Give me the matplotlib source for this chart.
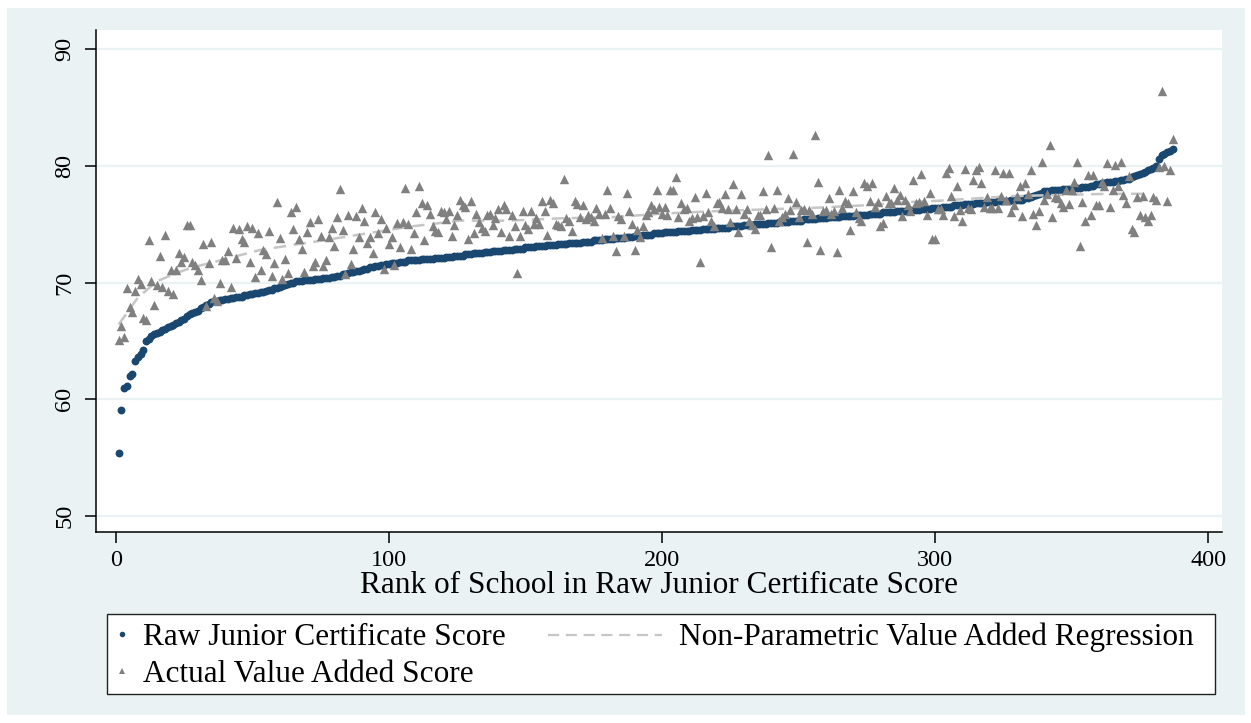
import matplotlib
matplotlib.use("Agg")
import matplotlib.pyplot as plt
import numpy as np
from matplotlib.lines import Line2D
from matplotlib.patches import Rectangle

plt.rcParams['font.family'] = ['Liberation Serif', 'DejaVu Serif']

# Raw junior certificate score, schools sorted by rank (1..387)
raw_score = [
    55.4, 59.1, 61.0, 61.1, 62.0, 62.2, 63.3, 63.6, 63.9, 64.2,
    65.0, 65.2, 65.4, 65.6, 65.7, 65.8, 65.9, 66.0, 66.2, 66.3,
    66.4, 66.5, 66.6, 66.8, 66.9, 67.1, 67.3, 67.4, 67.5, 67.6,
    67.8, 67.9, 68.1, 68.2, 68.3, 68.4, 68.4, 68.5, 68.5, 68.6,
    68.6, 68.7, 68.7, 68.8, 68.8, 68.8, 68.9, 68.9, 69.0, 69.0,
    69.1, 69.1, 69.2, 69.2, 69.3, 69.4, 69.4, 69.5, 69.5, 69.6,
    69.7, 69.8, 69.9, 70.0, 70.0, 70.1, 70.1, 70.1, 70.2, 70.2,
    70.2, 70.2, 70.3, 70.3, 70.3, 70.4, 70.4, 70.4, 70.5, 70.5,
    70.6, 70.6, 70.7, 70.7, 70.8, 70.9, 70.9, 71.0, 71.0, 71.1,
    71.2, 71.2, 71.3, 71.3, 71.4, 71.4, 71.5, 71.5, 71.6, 71.6,
    71.7, 71.7, 71.7, 71.8, 71.8, 71.8, 71.9, 71.9, 71.9, 71.9,
    71.9, 72.0, 72.0, 72.0, 72.0, 72.0, 72.1, 72.1, 72.1, 72.1,
    72.2, 72.2, 72.2, 72.3, 72.3, 72.3, 72.3, 72.4, 72.4, 72.4,
    72.5, 72.5, 72.5, 72.5, 72.6, 72.6, 72.6, 72.7, 72.7, 72.7,
    72.7, 72.8, 72.8, 72.8, 72.8, 72.9, 72.9, 72.9, 72.9, 73.0,
    73.0, 73.0, 73.0, 73.1, 73.1, 73.1, 73.1, 73.2, 73.2, 73.2,
    73.2, 73.3, 73.3, 73.3, 73.3, 73.4, 73.4, 73.4, 73.4, 73.4,
    73.5, 73.5, 73.5, 73.5, 73.6, 73.6, 73.6, 73.6, 73.7, 73.7,
    73.7, 73.7, 73.8, 73.8, 73.8, 73.8, 73.9, 73.9, 73.9, 74.0,
    74.0, 74.0, 74.1, 74.1, 74.1, 74.1, 74.2, 74.2, 74.2, 74.2,
    74.3, 74.3, 74.3, 74.3, 74.3, 74.4, 74.4, 74.4, 74.4, 74.4,
    74.5, 74.5, 74.5, 74.5, 74.6, 74.6, 74.6, 74.6, 74.6, 74.7,
    74.7, 74.7, 74.7, 74.7, 74.8, 74.8, 74.8, 74.8, 74.8, 74.9,
    74.9, 74.9, 74.9, 75.0, 75.0, 75.0, 75.0, 75.0, 75.1, 75.1,
    75.1, 75.1, 75.2, 75.2, 75.2, 75.2, 75.3, 75.3, 75.3, 75.3,
    75.3, 75.4, 75.4, 75.4, 75.4, 75.4, 75.5, 75.5, 75.5, 75.5,
    75.6, 75.6, 75.6, 75.6, 75.6, 75.7, 75.7, 75.7, 75.7, 75.7,
    75.8, 75.8, 75.8, 75.8, 75.8, 75.9, 75.9, 75.9, 75.9, 75.9,
    76.0, 76.0, 76.0, 76.0, 76.0, 76.1, 76.1, 76.1, 76.1, 76.1,
    76.2, 76.2, 76.2, 76.2, 76.3, 76.3, 76.3, 76.3, 76.4, 76.4,
    76.4, 76.4, 76.5, 76.5, 76.5, 76.5, 76.6, 76.6, 76.6, 76.6,
    76.7, 76.7, 76.7, 76.7, 76.8, 76.8, 76.8, 76.8, 76.9, 76.9,
    76.9, 76.9, 77.0, 77.0, 77.0, 77.0, 77.0, 77.1, 77.1, 77.1,
    77.1, 77.1, 77.2, 77.2, 77.3, 77.4, 77.5, 77.6, 77.7, 77.8,
    77.8, 77.8, 77.9, 77.9, 77.9, 77.9, 78.0, 78.0, 78.0, 78.0,
    78.1, 78.1, 78.1, 78.2, 78.2, 78.2, 78.3, 78.3, 78.4, 78.4,
    78.5, 78.5, 78.6, 78.6, 78.6, 78.7, 78.7, 78.8, 78.8, 78.9,
    78.9, 79.0, 79.1, 79.2, 79.3, 79.4, 79.5, 79.6, 79.7, 79.8,
    80.0, 80.6, 80.9, 81.0, 81.2, 81.3, 81.4,
]

# Actual value added score, same school order
value_added = [
    65.1, 66.3, 65.3, 69.5, 67.9, 67.5, 69.3, 70.3, 69.9, 67.0,
    66.8, 73.6, 70.1, 68.1, 69.8, 72.3, 69.6, 74.1, 69.3, 71.1,
    69.0, 71.1, 72.5, 71.8, 72.2, 74.9, 74.9, 71.8, 71.5, 71.1,
    70.2, 73.3, 68.0, 71.7, 73.5, 68.7, 68.4, 70.0, 71.9, 71.9,
    72.7, 69.6, 74.7, 72.1, 74.6, 73.7, 73.5, 74.8, 71.8, 74.7,
    70.5, 74.2, 71.1, 72.8, 72.4, 74.4, 70.6, 71.7, 76.9, 73.8,
    70.3, 72.0, 70.8, 76.0, 74.6, 76.5, 73.7, 72.9, 70.9, 74.3,
    75.2, 71.4, 71.8, 75.4, 74.0, 71.4, 71.9, 73.9, 74.7, 73.1,
    75.6, 78.0, 74.5, 70.7, 75.8, 71.6, 72.9, 75.7, 73.9, 76.4,
    75.3, 73.4, 73.9, 72.5, 76.0, 74.2, 75.4, 71.2, 74.7, 73.3,
    73.9, 71.5, 75.1, 73.0, 75.2, 78.1, 75.0, 72.9, 74.2, 76.0,
    78.3, 76.8, 73.6, 76.6, 75.9, 74.8, 74.4, 74.3, 76.1, 76.0,
    75.4, 76.1, 74.0, 74.9, 75.8, 77.1, 76.6, 76.5, 73.7, 77.0,
    74.2, 75.9, 75.2, 74.7, 74.4, 75.8, 75.9, 74.9, 75.5, 76.3,
    74.3, 76.6, 76.3, 74.0, 75.8, 74.8, 70.8, 74.0, 76.1, 74.9,
    74.6, 76.1, 75.0, 75.5, 75.0, 77.0, 76.1, 74.1, 77.1, 76.8,
    75.0, 74.9, 74.8, 78.9, 75.5, 75.3, 74.4, 77.0, 76.7, 75.6,
    76.6, 75.4, 75.8, 75.6, 75.3, 76.4, 75.9, 73.8, 75.9, 77.9,
    76.4, 74.0, 72.7, 75.7, 75.4, 74.0, 77.7, 76.1, 75.0, 72.8,
    74.5, 73.9, 74.8, 75.8, 76.0, 76.6, 76.3, 77.9, 76.5, 75.9,
    76.5, 75.8, 77.9, 77.9, 79.0, 75.6, 76.8, 76.3, 76.4, 75.3,
    75.5, 77.3, 75.6, 71.8, 75.7, 77.7, 76.0, 75.3, 74.8, 76.8,
    76.9, 76.4, 77.6, 76.3, 75.2, 78.4, 76.3, 74.3, 77.6, 75.9,
    76.3, 75.3, 74.9, 74.6, 75.8, 75.8, 77.8, 76.3, 80.9, 73.0,
    76.4, 77.9, 75.3, 75.6, 75.9, 77.2, 76.2, 81.0, 76.9, 75.6,
    76.2, 76.3, 73.5, 76.2, 75.9, 82.6, 78.6, 72.8, 76.1, 76.2,
    77.2, 75.9, 76.1, 72.6, 77.9, 76.4, 77.0, 76.8, 74.5, 77.8,
    76.0, 75.5, 75.3, 78.5, 78.3, 77.0, 78.5, 76.5, 76.9, 74.8,
    75.1, 77.4, 76.8, 76.8, 78.1, 77.1, 77.5, 75.7, 77.1, 76.6,
    76.1, 78.8, 76.8, 76.9, 79.3, 77.0, 75.8, 77.7, 73.7, 73.7,
    76.3, 76.3, 75.8, 79.4, 79.8, 77.4, 75.7, 78.3, 76.2, 75.3,
    79.7, 76.4, 76.3, 78.8, 79.6, 79.9, 78.5, 76.5, 77.3, 76.4,
    76.4, 79.6, 76.4, 77.4, 79.4, 77.1, 79.4, 76.0, 76.6, 77.4,
    78.3, 75.7, 78.5, 77.6, 79.6, 75.9, 74.9, 76.1, 80.3, 77.1,
    77.6, 81.8, 75.6, 77.3, 77.2, 76.8, 76.5, 77.9, 76.7, 77.9,
    78.6, 80.3, 73.1, 76.9, 75.3, 79.2, 75.8, 79.2, 76.6, 76.6,
    78.6, 78.3, 80.2, 76.5, 77.9, 80.1, 78.3, 80.3, 77.5, 76.8,
    79.1, 74.6, 74.3, 77.3, 75.8, 77.4, 75.6, 75.3, 75.8, 77.3,
    77.1, 79.9, 86.4, 80.0, 77.0, 79.6, 82.3,
]

# Non-parametric fit evaluated at a grid of ranks
fit_rank = [1, 8, 15, 22, 28, 35, 53, 73, 89, 108, 126, 144, 163, 182,
            200, 218, 242, 256, 273, 291, 301, 328, 346, 364, 378]
fit_value = [66.4, 68.7, 70.1, 70.8, 71.3, 71.7, 72.8, 73.5, 74.1, 74.8,
             75.3, 75.3, 75.5, 75.6, 75.9, 76.1, 76.3, 76.4, 76.6, 76.9,
             77.0, 77.4, 77.5, 77.6, 77.6]

rank = np.arange(1, len(raw_score) + 1)

W, H = 1251, 723
bg = '#eaf2f3'
navy = '#1a476f'
tri_gray = '#808080'
fit_gray = '#c6c6c6'

fig = plt.figure(figsize=(W / 100, H / 100), dpi=100)
fig.patch.set_facecolor('white')
fig.add_artist(Rectangle((7 / W, 8 / H), (1245 - 7) / W, (715 - 8) / H,
                         transform=fig.transFigure, facecolor=bg,
                         edgecolor='none', zorder=0))

ax = fig.add_axes([96 / W, 1 - 532 / H, (1222 - 96) / W, (532 - 30) / H])
ax.set_facecolor('white')

ax.scatter(rank, raw_score, s=32, marker='o', color=navy, linewidths=0, zorder=3)
ax.plot(fit_rank, fit_value, color=fit_gray, lw=1.8, dashes=(5, 3), zorder=4)
ax.scatter(rank, value_added, s=46, marker='^', color=tri_gray, linewidths=0, zorder=5)

ax.set_xlim(-7.3, 405.1)
ax.set_ylim(48.63, 91.63)
ax.set_yticks([50, 60, 70, 80, 90])
ax.set_xticks([0, 100, 200, 300, 400])
ax.grid(axis='y', color=bg, lw=1.6)
ax.set_axisbelow(True)
for s in ['top', 'right']:
    ax.spines[s].set_visible(False)
for s in ['left', 'bottom']:
    ax.spines[s].set_linewidth(1.1)
    ax.spines[s].set_color('black')
ax.tick_params(axis='both', length=8, width=1.1, labelsize=17.5, color='black')
ax.tick_params(axis='y', pad=7)
ax.tick_params(axis='x', pad=5)
for lbl in ax.get_yticklabels():
    lbl.set_rotation(90)
    lbl.set_va('center')
ax.set_xlabel('Rank of School in Raw Junior Certificate Score', fontsize=22.5, labelpad=0)

# legend: framed box with two columns
fig.add_artist(Rectangle((107 / W, 1 - 694 / H), (1215 - 107) / W, (694 - 614) / H,
                         transform=fig.transFigure, facecolor='white',
                         edgecolor='#222222', lw=1.0, zorder=1))
h_raw = Line2D([], [], ls='none', marker='o', ms=4, color=navy, mew=0)
h_act = Line2D([], [], ls='none', marker='^', ms=5, color=tri_gray, mew=0)
h_fit = Line2D([], [], color=fit_gray, lw=1.6, dashes=(5, 3))
leg1 = fig.legend([h_raw, h_act], ['Raw Junior Certificate Score', 'Actual Value Added Score'],
                  loc='upper left', bbox_to_anchor=(110 / W, 1 - 623 / H),
                  frameon=False, fontsize=22.5, handlelength=0.75, handletextpad=0.3,
                  borderpad=0, borderaxespad=0, labelspacing=0.24)
leg2 = fig.legend([h_fit], ['Non-Parametric Value Added Regression'],
                  loc='upper left', bbox_to_anchor=(548 / W, 1 - 623 / H),
                  frameon=False, fontsize=22.5, handlelength=3.65, handletextpad=0.55,
                  borderpad=0, borderaxespad=0)
leg1.set_zorder(2)
leg2.set_zorder(2)

fig.savefig('out.png', dpi=100, facecolor=fig.get_facecolor())
